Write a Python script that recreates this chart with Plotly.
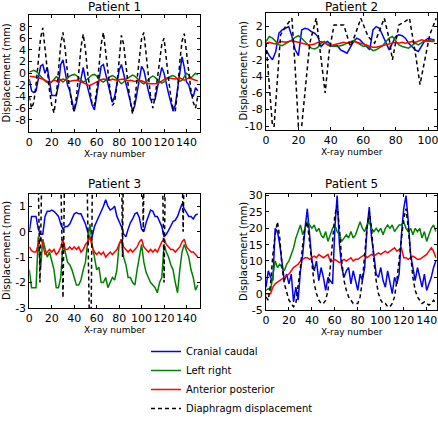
import plotly.graph_objects as go

W, H = 438, 423

# ---------------- Patient 1 ----------------
p1_x = list(range(0, 152, 2))
p1_cc = [-1, -3, -3.3, -3, -1, 1.2, 1.5, 0, 1, -1.5, -3.8, -3.8, -3.8, -2, 1.5, 2.3, 0, -2, -3, -5,
         -6.5, -5, -3, -1, 1, -1, -2.5, -4, -5.5, -6.3, -4, -1.5, 1.2, 1.5, 0, -1.5, -3.5, -5, -4, -2,
         0.5, 1.5, 0, -2, -3, -5, -6.5, -5.5, -3, -0.5, 1.2, 0.5, -1.5, -3, -4.5, -4.5, -4.5, -2.5, -0.5, 1,
         0, -2, -3.5, -5, -6.5, -5.5, -3, 0, 2.8, 1, -1.5, -2, -3.5, -4, -2.5, -3]
p1_lr = [0.2, 0.4, 0.5, 0.3, 0, -0.5, -1, -1.3, -1.6, -1.8, -1.5, -1, -0.6, -0.8, -1.2, -1.5, -1.2, -0.8, -0.5, -0.3,
         -0.2, -0.4, -0.8, -1.2, -1.5, -1.3, -0.9, -0.6, -0.3, -0.2, -0.5, -0.9, -1.3, -1.5, -1.2, -0.8, -0.6, -0.4, -0.6, -1,
         -1.5, -1.8, -1.5, -1, -0.8, -0.5, -0.3, -0.5, -0.9, -1.3, -1.6, -1.8, -1.5, -1.1, -0.7, -0.5, -0.7, -1, -1.4, -1.7,
         -1.5, -1, -0.7, -0.5, -0.4, -0.6, -1, -1.4, -1.2, -0.5, 0, -0.3, -0.8, -0.4, 0, -0.3]
p1_ap = [-0.5, -0.5, -0.6, -0.7, -0.8, -0.8, -1, -1.2, -1.4, -1.6, -1.4, -1.2, -1.3, -1.5, -1.2, -1, -1.1, -1.3, -1.4, -1.3,
         -1.2, -1.2, -1.3, -1.5, -1.6, -1.8, -2, -2.1, -1.9, -1.6, -1.4, -1.2, -1.1, -1, -1, -1.1, -1.2, -1, -1.1, -1.2,
         -1.1, -1, -1, -1.2, -1.3, -1.2, -1.3, -1.4, -1.3, -1.2, -1.3, -1.5, -1.6, -1.8, -1.8, -1.8, -1.9, -1.8, -1.6, -1.3,
         -1, -0.8, -0.8, -0.9, -1, -1, -0.9, -0.8, -1, -1.2, -1, -0.8, -0.9, -1.1, -1.2, -1.3]
p1_dia = [-4, -6, -5, -2, 2, 6, 7.8, 4, 0, -3, -5.5, -6.8, -4, 0, 5, 7, 4, 0, -3, -5.5,
          -6.5, -4, 0, 4.5, 6.7, 4, 0, -3, -5.5, -5.5, -3, 1, 5, 7, 3.5, 0, -3, -5.5, -5, -2,
          3, 6.5, 5, 1, -2, -5, -7, -4.5, -1, 3, 6, 7, 3.5, 0, -4, -6, -4, -1, 2, 5,
          6, 3, -1, -4, -6, -6.5, -3, 2, 5.5, 6.8, 3.5, 0, -3, -5, -6, -4]
p1_yticks = [-8, -6, -4, -2, 0, 2, 4, 6, 8]

# ---------------- Patient 2 ----------------
p2_x = list(range(0, 106, 2))
p2_cc = [-0.8, -1.5, -2, -1, 1.2, 1.6, 1.8, 2, 0.8, -0.8, -1.5, 1.6, 1.8, 1.7, 1.4, 1.2, 0.8, -0.4, 0, 0.2,
         -0.2, -0.4, -0.3, -0.8, -1, -1.2, -0.5, 0.2, 0.6, 0.4, 0, -0.4, -0.8, 1.6, 2, 1.8, 1, 0, -0.8, 0,
         0.8, 1, 0.9, 0.6, 0, -0.4, -0.8, -1, -0.3, 0.3, 0.6, 0.5, 0.4]
p2_lr = [0.2, 0.8, 0.6, 0.2, -0.2, -0.3, -0.1, 0.2, 0.4, 0.7, 0.9, 0.6, 0.2, -0.3, -0.6, -0.7, -0.5, 0, 0.2, -0.2,
         -0.4, -0.3, -0.4, -0.3, -0.2, 0, 0.2, 0.3, 0.1, -0.2, -0.4, -0.3, -0.6, -0.9, -0.8, -0.6, -0.3, 0.2, 0.6, 0.8,
         0.3, -0.2, -0.4, -0.5, -0.6, -0.3, 0, -0.2, 0, 0.3, 0.2, 0.4, 0.3]
p2_ap = [0, 0.1, 0, -0.1, 0.1, 0.2, 0.1, 0.2, 0.3, 0.2, 0.1, 0, -0.1, -0.2, -0.2, -0.1, 0.1, 0.2, 0, -0.2,
         -0.3, -0.2, -0.1, 0, 0.1, 0, 0.1, 0.2, 0.1, 0, -0.1, -0.2, -0.4, -0.5, -0.5, -0.4, -0.3, -0.2, -0.1, 0,
         0.1, 0, 0.1, 0, 0.1, 0.2, 0.1, 0.3, 0.4, 0.3, 0.3, 0.2, 0.2]
p2_dia_x = [0, 2, 4, 5, 7, 9, 12, 16, 18, 20, 22, 24, 27, 31, 34, 36.5, 39, 42, 48, 52, 55, 58.5,
            63, 67, 70, 73, 76, 78, 82, 85, 88.5, 92, 95, 98, 101, 105]
p2_dia = [0, -5, -10, -10, -4, 1, 2, 3, -3, -10, -10, -6, 0, 3, -2, -6, -1, 2.2, 2.2, -0.4, 1, 3,
          0.8, 0, 1.5, 3, 0.5, -2, 2.2, 2.5, 3, -1, -5, -2, 1, 3]
p2_yticks = [-10, -8, -6, -4, -2, 0, 2]

# ---------------- Patient 3 ----------------
p3_x = list(range(0, 152, 2))
p3_cc = [0, 0.6, 0.6, 0.6, 0.1, -0.1, -0.1, 0.6, 0.8, 0.8, 0.85, 0.8, 0.7, 0.6, 0.3, 0.1, 0.2, 0.2, 0.3, 0.5,
         0.7, 0.75, 0.7, 0.7, 0.5, 0.3, 0, -0.3, -0.2, 0.2, 0.4, 0.6, 0.75, 1, 1.25, 1, 0.85, 0.9, 1, 0.6,
         0.4, 0.2, -0.1, -0.2, 0.1, 0.35, 0.5, 0.7, 0.75, 0.55, 0.1, 0, 0.35, 0.6, 0.85, 0.8, 0.6, 0.6, 0.4, 0.2,
         -0.2, -0.1, 0.05, 0.2, 0.4, 0.45, 0.6, 0.85, 1.1, 0.9, 0.75, 0.6, 0.6, 0.5, 0.65, 0.7]
p3_lr = [-1.5, -2.2, -2.2, -2.2, -0.2, -1.5, -0.3, -0.6, -1, -0.8, -1.2, -1.5, -2.2, -2.2, -1.8, -0.5, -0.8, -1.2, -1.3, -1.5,
         -1.8, -2.1, -2.1, -1.9, -1.5, -1.2, -0.4, 0.3, -0.5, -1, -1.5, -1.4, -2, -2, -1.8, -2.2, -2, -1.8, -1.9, -1.5,
         -0.5, -0.3, -1, -1.3, -1.8, -1.8, -2, -2.1, -1.5, -1, -0.5, -1.2, -1.6, -1.8, -2, -2.1, -2.2, -2.4, -2, -1.8,
         -0.5, -0.8, -1, -1.3, -1.5, -2, -2.4, -1.5, -0.8, -0.5, -0.8, -1, -1.5, -1.8, -2.3, -2.1]
p3_ap = [-0.6, -0.75, -0.8, -0.8, -0.5, -0.2, -0.5, -0.9, -0.8, -0.7, -0.8, -0.7, -0.9, -0.8, -0.6, -0.3, -0.7, -0.7, -0.6, -0.7,
         -0.6, -0.7, -0.6, -0.8, -0.7, -0.5, -0.4, -0.2, -0.6, -0.8, -0.9, -0.8, -0.9, -0.8, -1, -0.9, -0.8, -0.9, -0.8, -0.7,
         -0.5, -0.3, -0.6, -0.7, -0.8, -0.7, -0.8, -0.7, -0.6, -0.4, -0.3, -0.6, -0.7, -0.8, -0.7, -0.8, -0.7, -0.8, -0.6, -0.4,
         -0.3, -0.5, -0.6, -0.7, -0.7, -0.8, -0.7, -0.6, -0.4, -0.3, -0.6, -0.7, -0.8, -0.8, -0.9, -1]
p3_dia_x = [0, 6.5, 9.5, 12.5, 20, 26.5, 30, 32.5, 45, 50, 53.5, 55, 57, 70, 81.5, 83, 84.5,
            95, 99.7, 101.5, 103, 112, 117.5, 120, 122, 130, 135, 137, 139, 152]
p3_dia = [6, 6, -2, 6, 6, 6, -2.6, 6, 6, 6, -3.5, -3.5, 6, 6, 6, -1, 6,
          6, 6, 0, 6, 6, 6, -2, 6, 6, 6, 0, 6, 6]
p3_yticks = [-3, -2, -1, 0, 1]

# ---------------- Patient 5 ----------------
p5_x = list(range(0, 150, 2))
p5_cc = [2, 7, 5, 4, 20, 19, 15, 10, 4, 6, 3, 6, -2.5, 2, -2, 7, 12, 20, 26, 18,
         10, 7, 10, 4, 8, 5, 1, 5, 4, 3, 20, 30, 15, 8, 5, 7, 8, 3, 7, 4,
         1, 6, 4, 8, 20, 26.5, 17, 12, 6, 5, 8, 4, 2, 7, 3, 0, 5, 3, 6, 18,
         26, 30, 22, 12, 8, 4, 8, 5, 2, 6, 1, 3, 5, 8, 10]
p5_lr = [1, 1.5, 1, 5, 10, 8, 9, 8, 7, 9, 10, 12, 14, 17, 19, 21, 18, 20, 22, 21,
         20, 21, 19, 20, 18, 17, 19, 16, 18, 20, 21, 19, 18, 16, 17, 18, 17, 19, 17, 18,
         20, 22, 20, 19, 21, 22, 20, 19, 20, 19, 20, 18, 20, 21, 20, 21, 19, 20, 21, 21,
         22, 20, 19, 20, 18, 20, 19, 20, 17, 19, 16, 18, 20, 21, 19]
p5_ap = [0, 0, 0, 2, 3, 3.5, 4, 4.5, 5, 5.5, 6, 7, 8, 8.5, 9, 10, 10.5, 11, 11, 10.5,
         11, 11.5, 11, 12, 11.5, 11, 11.5, 12, 10, 10, 10.5, 10, 9.5, 10, 10.5, 10, 10.5, 11, 10, 10.5,
         10.5, 11, 11.5, 12, 11, 11.5, 12, 11.5, 12, 12.5, 12, 12.5, 13, 12.5, 13, 13.5, 14, 13, 13.5, 14,
         11, 11, 10.5, 11, 11.5, 11, 10.5, 10.5, 11, 11.5, 12, 13, 14, 13, 11]
p5_dia = [-1, -2, 3, 12, 18, 22, 17, 8, 3, 0, -2, -3, -4, -3, 2, 8, 15, 20, 22, 16,
          8, 3, 0, -2, -3, -3, -2, 1, 8, 16, 24, 27, 20, 10, 4, 1, -1, -2, -3, -3,
          -3, -1, 4, 12, 20, 25, 20, 10, 4, 0, -2, -3, -3, -4, -4, -3, -1, 4, 10, 17,
          23, 26, 20, 12, 5, 1, -1, -2, -3, -2.5, -3, -3.5, -3, -2, -3]
p5_yticks = [-5, 0, 5, 10, 15, 20, 25, 30]

x_ticks = [0, 20, 40, 60, 80, 100, 120, 140]

titles = ["Patient 1", "Patient 2", "Patient 3", "Patient 5"]
series_names = ["Cranial caudal", "Left right", "Anterior posterior", "Diaphragm displacement"]
colors = ["#0000ff", "#008000", "#ff0000", "#000000"]

panels = [
    dict(x=p1_x, cc=p1_cc, lr=p1_lr, ap=p1_ap, dx=p1_x, dia=p1_dia, yt=p1_yticks,
         xr=[0, 152], yr=[-10, 10], px=(29.3, 200), py=(15, 131.5), ty=7),
    dict(x=p2_x, cc=p2_cc, lr=p2_lr, ap=p2_ap, dx=p2_dia_x, dia=p2_dia, yt=p2_yticks,
         xr=[0, 105.5], yr=[-10.4, 3.6], px=(266, 437), py=(13.3, 129.5), ty=7),
    dict(x=p3_x, cc=p3_cc, lr=p3_lr, ap=p3_ap, dx=p3_dia_x, dia=p3_dia, yt=p3_yticks,
         xr=[0, 152], yr=[-3, 1.5], px=(29.3, 200), py=(193.5, 308), ty=183.5),
    dict(x=p5_x, cc=p5_cc, lr=p5_lr, ap=p5_ap, dx=p5_x, dia=p5_dia, yt=p5_yticks,
         xr=[0, 149], yr=[-5, 30.5], px=(266, 437), py=(194, 310), ty=183.5),
]


def fy(py):
    return 1 - py / H


fig = go.Figure()
font = "DejaVu Sans"
annotations = []
for i, p in enumerate(panels):
    n = "" if i == 0 else str(i + 1)
    xa, ya = "x" + n, "y" + n
    ys = [p["cc"], p["lr"], p["ap"]]
    for k in range(3):
        fig.add_trace(go.Scatter(x=p["x"], y=ys[k], mode="lines", name=series_names[k],
                                 line=dict(color=colors[k], width=1.5),
                                 xaxis=xa, yaxis=ya, showlegend=(i == 0)))
    fig.add_trace(go.Scatter(x=p["dx"], y=p["dia"], mode="lines", name=series_names[3],
                             line=dict(color="black", width=1.5, dash="4px,3px"),
                             xaxis=xa, yaxis=ya, showlegend=(i == 0)))
    x0, x1 = p["px"][0] / W, p["px"][1] / W
    axcommon = dict(showline=True, linecolor="black", linewidth=1, mirror="ticks",
                    ticks="inside", ticklen=3, tickcolor="black", showgrid=False, zeroline=False,
                    automargin=False, tickangle=0, ticklabeloverflow="allow",
                    tickfont=dict(family=font, size=11, color="black"))
    fig.layout["xaxis" + n] = dict(domain=[x0, x1], range=p["xr"], tickmode="array",
                                   tickvals=x_ticks, ticktext=[str(v) for v in x_ticks],
                                   anchor=ya, **axcommon)
    fig.layout["yaxis" + n] = dict(domain=[fy(p["py"][1]), fy(p["py"][0])], range=p["yr"],
                                   tickmode="array", tickvals=p["yt"],
                                   ticktext=[str(v) for v in p["yt"]],
                                   anchor=xa, **axcommon)
    cx = (p["px"][0] + p["px"][1]) / 2 / W
    annotations.append(dict(text=titles[i], x=cx, y=fy(p["ty"]), xref="paper", yref="paper",
                            showarrow=False, xanchor="center", yanchor="middle",
                            font=dict(family=font, size=12, color="black")))
    annotations.append(dict(text="X-ray number", x=cx, y=fy(p["py"][1] + 22), xref="paper", yref="paper",
                            showarrow=False, xanchor="center", yanchor="middle",
                            font=dict(family=font, size=9, color="black")))
    annotations.append(dict(text="Displacement (mm)", x=(p["px"][0] - 23) / W,
                            y=fy((p["py"][0] + p["py"][1]) / 2), xref="paper", yref="paper",
                            showarrow=False, textangle=-90, xanchor="center", yanchor="middle",
                            font=dict(family=font, size=10, color="black")))

fig.update_layout(
    width=W, height=H, margin=dict(l=0, r=0, t=0, b=0, autoexpand=False),
    paper_bgcolor="white", plot_bgcolor="white",
    annotations=annotations,
    legend=dict(x=146 / W, y=0, xanchor="left", yanchor="bottom",
                font=dict(family=font, size=10, color="black"),
                bgcolor="rgba(0,0,0,0)", tracegroupgap=0, itemwidth=30),
)

fig.write_html("out.html", config={"displayModeBar": False},
               post_script="document.body.style.margin='0';document.body.style.padding='0';")
